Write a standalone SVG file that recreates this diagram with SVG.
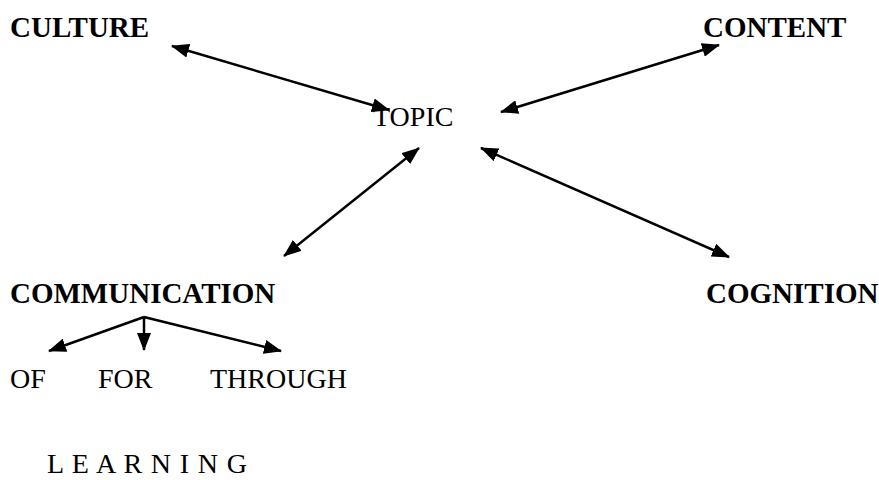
<svg xmlns="http://www.w3.org/2000/svg" width="879" height="480" viewBox="0 0 879 480">
<defs>
<marker id="ah" markerUnits="userSpaceOnUse" viewBox="0 0 18 14" markerWidth="18" markerHeight="14" refX="17" refY="7" orient="auto-start-reverse">
<path d="M0,0 L18,7 L0,14 Z" fill="#000"/>
</marker>
<style>
.t{font-size:28px;fill:#000}
.b{font-weight:bold;font-size:29px}
.c{stroke:#000;stroke-width:2.5;fill:none}
</style>
</defs>
<rect width="879" height="480" fill="#fff"/>
<g font-family="'Liberation Serif', 'DejaVu Serif', serif">
<g id="culture"><text class="t b" x="10" y="37">CULTURE</text></g>
<g id="content"><text class="t b" x="703" y="37">CONTENT</text></g>
<g id="topic"><text class="t" x="373" y="126">TOPIC</text></g>
<g id="communication"><text class="t b" x="10" y="303">COMMUNICATION</text></g>
<g id="cognition"><text class="t b" x="706" y="303">COGNITION</text></g>
<g id="of"><text class="t" x="10" y="388">OF</text></g>
<g id="for"><text class="t" x="98" y="388">FOR</text></g>
<g id="through"><text class="t" x="210" y="388">THROUGH</text></g>
<g id="learning"><text class="t" x="47" y="473" textLength="200" lengthAdjust="spacing">L E A R N I N G</text></g>
</g>
<g id="connectors">
<line class="c" x1="172" y1="46" x2="389" y2="110" marker-start="url(#ah)" marker-end="url(#ah)"/>
<line class="c" x1="719" y1="45" x2="501" y2="112" marker-start="url(#ah)" marker-end="url(#ah)"/>
<line class="c" x1="419" y1="148" x2="284" y2="256" marker-start="url(#ah)" marker-end="url(#ah)"/>
<line class="c" x1="481" y1="148" x2="729" y2="257" marker-start="url(#ah)" marker-end="url(#ah)"/>
<line class="c" x1="144" y1="317" x2="49" y2="351" marker-end="url(#ah)"/>
<line class="c" x1="144" y1="317" x2="144" y2="350" marker-end="url(#ah)"/>
<line class="c" x1="144" y1="317" x2="281" y2="351" marker-end="url(#ah)"/>
</g>
</svg>
